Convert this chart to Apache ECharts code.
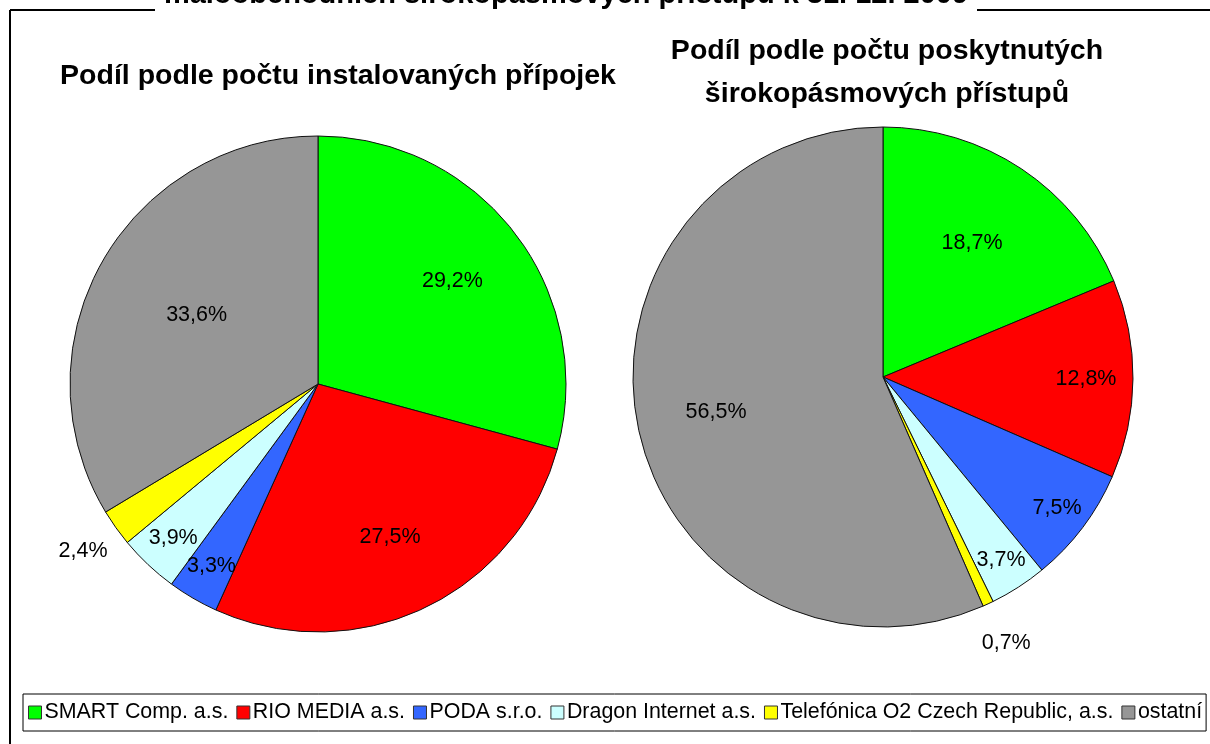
<!DOCTYPE html>
<html>
<head>
<meta charset="utf-8">
<script src="https://cdn.jsdelivr.net/npm/echarts@6/dist/echarts.min.js"></script>
<style>
html,body{margin:0;padding:0;background:#fff;}
#chart{width:1210px;height:744px;}
</style>
</head>
<body>
<div id="chart"></div>
<script>
// ---- data ----
const categories = ['SMART Comp. a.s.', 'RIO MEDIA a.s.', 'PODA s.r.o.', 'Dragon Internet a.s.', 'Telefónica O2 Czech Republic, a.s.', 'ostatní'];
const sharePripojky = [29.2, 27.5, 3.3, 3.9, 2.4, 33.6];
const sharePristupy = [18.7, 12.8, 7.5, 3.7, 0.7, 56.5];
const topTitle = 'maloobchodních širokopásmových přístupů k 31. 12. 2009';
const title1 = 'Podíl podle počtu instalovaných přípojek';
const title2 = 'Podíl podle počtu poskytnutých\nširokopásmových přístupů';

// ---- styles ----
const colors = ['#00FF00', '#FF0000', '#3366FF', '#CCFFFF', '#FFFF00', '#969696'];
const FONT = '"Liberation Sans", Arial, sans-serif';
const fmt = v => v.toFixed(1).replace('.', ',') + '%';

// label rings: fraction of radius at which each slice's label sits
const rings1 = [[0.67, [0, 1]], [0.55, [5]], [0.84, [2, 3]], [1.15, [4]]];
const rings2 = [[0.63, [0]], [0.67, [5]], [0.80, [1]], [0.86, [2, 3]], [1.16, [4]]];

function makePie(values, center, r, rings) {
  const main = {
    type: 'pie', center: center, radius: [0, r], startAngle: 90, clockwise: true,
    avoidLabelOverlap: false, silent: true,
    label: { show: false }, labelLine: { show: false },
    itemStyle: { borderColor: '#111', borderWidth: 1 },
    emphasis: { disabled: true },
    data: values.map((v, i) => ({ name: categories[i], value: v, itemStyle: { color: colors[i] } }))
  };
  const overlays = rings.map(([ratio, idx]) => ({
    type: 'pie', center: center, radius: [0, 2 * ratio * r], startAngle: 90, clockwise: true,
    avoidLabelOverlap: false, silent: true, z: 5,
    itemStyle: { color: 'rgba(0,0,0,0)', borderWidth: 0 },
    labelLine: { show: false },
    emphasis: { disabled: true },
    label: { position: 'inside', color: '#000', fontFamily: FONT, fontSize: 21.5, formatter: p => fmt(p.value) },
    data: values.map((v, i) => ({ name: categories[i], value: v, label: { show: idx.includes(i) } }))
  }));
  return [main].concat(overlays);
}

const chart = echarts.init(document.getElementById('chart'), null, { renderer: 'canvas' });
chart.setOption({
  backgroundColor: '#fff',
  animation: false,
  color: colors,
  title: [
    { text: title1, left: 333, top: 57, textAlign: 'center',
      textStyle: { fontFamily: FONT, fontSize: 28.5, fontWeight: 'bold', color: '#000' } },
    { text: title2, left: 882, top: 25, textAlign: 'center',
      textStyle: { fontFamily: FONT, fontSize: 28.5, fontWeight: 'bold', color: '#000', lineHeight: 43 } }
  ],
  legend: {
    data: categories, left: 23, top: 694, width: 1200, orient: 'horizontal',
    itemWidth: 13, itemHeight: 13, itemGap: 8,
    padding: [8, 4, 8, 5],
    borderColor: '#000', borderWidth: 1, backgroundColor: '#fff',
    textStyle: { fontFamily: FONT, fontSize: 21.4, color: '#000', padding: [0, 0, 0, -2] },
    icon: 'rect', selectedMode: false,
    itemStyle: { borderColor: '#333', borderWidth: 1 }
  },
  graphic: [
    { type: 'line', shape: { x1: 10, y1: 10, x2: 10, y2: 744 }, style: { stroke: '#000', lineWidth: 2 } },
    { type: 'line', shape: { x1: 10, y1: 10, x2: 1210, y2: 10 }, style: { stroke: '#000', lineWidth: 2 } },
    { type: 'rect', shape: { x: 155, y: 0, width: 822, height: 14 }, style: { fill: '#fff' }, z: 10 },
    { type: 'text', x: 566, y: -5, z: 11,
      style: { text: topTitle, fill: '#000', font: 'bold 29px ' + FONT, textAlign: 'center', textVerticalAlign: 'middle' } }
  ],
  series: makePie(sharePripojky, [318, 384], 248, rings1)
    .concat(makePie(sharePristupy, [883, 377], 250, rings2))
});
</script>
</body>
</html>
